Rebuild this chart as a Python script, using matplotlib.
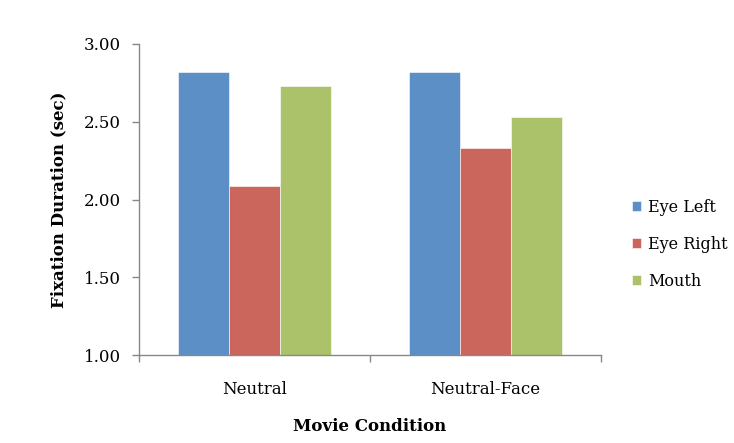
import numpy as np
import matplotlib
matplotlib.use('Agg')
import matplotlib.pyplot as plt

# Data
conditions = ['Neutral', 'Neutral-Face']
series = ['Eye Left', 'Eye Right', 'Mouth']
eye_left = [2.82, 2.82]
eye_right = [2.09, 2.33]
mouth = [2.73, 2.53]
colors = ['#5B8FC6', '#CB665C', '#ACC26A']
y_ticks = [1.00, 1.50, 2.00, 2.50, 3.00]

plt.rcParams['font.family'] = ['DejaVu Serif']

fig = plt.figure(figsize=(7.34, 4.43), dpi=100)
ax = fig.add_axes([0.1894, 0.1986, 0.6294, 0.7021])

x = np.arange(len(conditions))
width = 0.222
for i, (name, vals) in enumerate(zip(series, [eye_left, eye_right, mouth])):
    ax.bar(x + (i - 1) * width, np.array(vals) - 1.0, width, bottom=1.0,
           color=colors[i], label=name, edgecolor='white', linewidth=0.4)

ax.set_xlim(-0.5, len(conditions) - 0.5)
ax.set_ylim(1.0, 3.0)
ax.set_yticks(y_ticks)
ax.set_yticklabels([f'{v:.2f}' for v in y_ticks], fontsize=12)

# category boundaries get the tick marks, labels sit in the middle
ax.set_xticks(np.arange(-0.5, len(conditions)), minor=False)
ax.set_xticklabels([''] * (len(conditions) + 1))
ax.set_xticks(x, minor=True)
ax.set_xticklabels(conditions, minor=True, fontsize=12)
ax.tick_params(axis='x', which='minor', length=0, pad=19)
ax.tick_params(axis='x', which='major', direction='out', length=5, color='#888888', width=1)
ax.tick_params(axis='y', direction='out', length=5, color='#888888', width=1, pad=8)

for s in ['top', 'right']:
    ax.spines[s].set_visible(False)
for s in ['left', 'bottom']:
    ax.spines[s].set_color('#888888')
    ax.spines[s].set_linewidth(1)

ax.set_ylabel('Fixation Duration (sec)', fontsize=12, fontweight='bold', labelpad=12)
ax.set_xlabel('Movie Condition', fontsize=12, fontweight='bold', labelpad=14)

fig.legend(loc='center left', bbox_to_anchor=(0.842, 0.449), frameon=False,
           fontsize=11.5, handlelength=0.55, handleheight=0.55, handletextpad=0.45,
           labelspacing=1.25)

fig.savefig('out.png', dpi=100)
